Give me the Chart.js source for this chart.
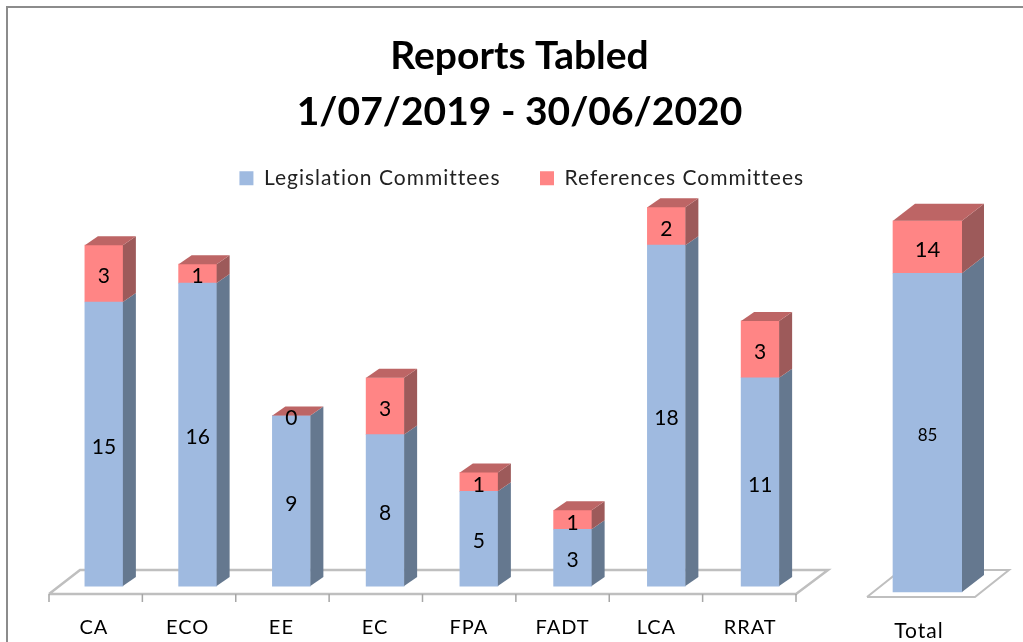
<!DOCTYPE html>
<html>
<head>
<meta charset="utf-8">
<style>
  html, body { margin: 0; padding: 0; background: #fff; overflow: hidden; }
  #wrap { position: relative; width: 1023px; height: 642px; overflow: hidden; }
  #frame { position: absolute; left: 6px; top: 6px; width: 1040px; height: 680px; border: 2px solid #8c8c8c; }
  #mainBox { position: absolute; left: 16px; top: 0; width: 1007px; height: 642px; }
  #totalBox { position: absolute; left: 840px; top: 0; width: 183px; height: 642px; }
</style>
<script src="https://cdn.jsdelivr.net/npm/chart.js@4/dist/chart.umd.min.js"></script>
</head>
<body>
<div id="wrap">
  <div id="frame"></div>
  <div id="mainBox"><canvas id="mainChart"></canvas></div>
  <div id="totalBox"><canvas id="totalChart"></canvas></div>
</div>
<script>
var committees = ['CA', 'ECO', 'EE', 'EC', 'FPA', 'FADT', 'LCA', 'RRAT'];
var legislation = [15, 16, 9, 8, 5, 3, 18, 11];
var references = [3, 1, 0, 3, 1, 1, 2, 3];

var totalLabel = ['Total'];
var totalLegislation = [85];
var totalReferences = [14];

var titleLines = ['Reports Tabled', '1/07/2019 - 30/06/2020'];
var seriesNames = ['Legislation Committees', 'References Committees'];

var BLUE = '#9fbae0', BLUE_SIDE = '#65788f';
var RED = '#ff8585', RED_SIDE = '#9d5a5a', RED_TOP = '#bd6565';
var FONT = 'Lato';
var SPACING = '1px';

// side and top faces of the bars, label text, and the floor
function box3d(dx, dy, floor, labelFont) {
  return {
    id: 'box3d',
    beforeLayout: function(chart) { chart.ctx.letterSpacing = SPACING; },
    beforeDraw: function(chart) { chart.ctx.letterSpacing = SPACING; },
    beforeDatasetsDraw: function(chart) {
      var c = chart.ctx;
      c.save();
      c.strokeStyle = '#bfbfbf';
      c.lineWidth = floor.width;
      c.beginPath();
      c.moveTo(floor.fl, floor.fy);
      c.lineTo(floor.bl, floor.by);
      c.lineTo(floor.br, floor.by);
      c.lineTo(floor.fr, floor.fy);
      c.lineTo(floor.fl, floor.fy);
      c.stroke();
      if (floor.marks) {
        c.strokeStyle = '#a6a6a6';
        c.lineWidth = 1.5;
        c.beginPath();
        for (var i = 0; i <= floor.marks; i++) {
          var x = floor.fl + i * (floor.fr - floor.fl) / floor.marks;
          c.moveTo(x, floor.fy);
          c.lineTo(x, floor.fy + 8);
        }
        c.stroke();
      }
      c.restore();
    },
    afterDatasetsDraw: function(chart) {
      var c = chart.ctx;
      c.save();
      c.letterSpacing = '0px';
      chart.data.datasets.forEach(function(ds, i) {
        chart.getDatasetMeta(i).data.forEach(function(bar) {
          var right = bar.x + bar.width / 2, left = bar.x - bar.width / 2;
          c.fillStyle = i == 0 ? BLUE_SIDE : RED_SIDE;
          c.beginPath();
          c.moveTo(right, bar.base);
          c.lineTo(right, bar.y);
          c.lineTo(right + dx, bar.y - dy);
          c.lineTo(right + dx, bar.base - dy);
          c.closePath();
          c.fill();
          if (i == 1) {
            c.fillStyle = RED_TOP;
            c.beginPath();
            c.moveTo(left, bar.y);
            c.lineTo(left + dx, bar.y - dy);
            c.lineTo(right + dx, bar.y - dy);
            c.lineTo(right, bar.y);
            c.closePath();
            c.fill();
          }
        });
      });
      c.fillStyle = '#000';
      c.textAlign = 'center';
      c.textBaseline = 'middle';
      chart.data.datasets.forEach(function(ds, i) {
        c.font = labelFont[i] + 'px ' + FONT;
        chart.getDatasetMeta(i).data.forEach(function(bar, j) {
          c.fillText(ds.data[j], bar.x, (bar.y + bar.base) / 2 + 3);
        });
      });
      c.restore();
    }
  };
}

// title without the letter spacing, legend block squeezed and nudged
var headerFix = {
  id: 'headerFix',
  beforeInit: function(chart) {
    var legendFit = chart.legend.fit;
    chart.legend.fit = function() {
      legendFit.call(this);
      this.height = 72;
    };
    var titleDraw = chart.titleBlock.draw;
    chart.titleBlock.draw = function() {
      chart.ctx.letterSpacing = '0px';
      titleDraw.call(this);
      chart.ctx.letterSpacing = SPACING;
    };
  },
  afterLayout: function(chart) {
    chart.legend.left += 2.25;
    chart.legend.right += 2.25;
  }
};

var hiddenAxis = {
  display: true,
  border: { display: false },
  grid: { display: false },
  ticks: { display: false }
};

var mainCtx = document.getElementById('mainChart').getContext('2d');
new Chart(mainCtx, {
  type: 'bar',
  data: {
    labels: committees,
    datasets: [
      { label: seriesNames[0], data: legislation, backgroundColor: BLUE, barThickness: 38, clip: false },
      { label: seriesNames[1], data: references, backgroundColor: RED, barThickness: 38, clip: false }
    ]
  },
  options: {
    responsive: true,
    maintainAspectRatio: false,
    animation: false,
    plugins: {
      tooltip: { enabled: false },
      title: {
        display: true,
        text: titleLines,
        color: '#000',
        font: { family: FONT, size: 39, weight: 'bold', lineHeight: 1.44 },
        padding: { top: 28, bottom: -12 }
      },
      legend: {
        position: 'top',
        labels: {
          color: '#222',
          font: { family: FONT, size: 21 },
          boxWidth: 14, boxHeight: 14,
          padding: 39.5
        }
      }
    },
    scales: {
      x: {
        stacked: true,
        afterFit: function(scale) { scale.height = 48; },
        border: { display: false },
        grid: { display: false },
        ticks: { color: '#000', font: { family: FONT, size: 20 }, padding: 14, labelOffset: -10, maxRotation: 0 }
      },
      y: Object.assign({}, hiddenAxis, {
        stacked: true,
        afterFit: function(scale) { scale.width = 41; },
        min: -0.42,
        max: 20.37
      }),
      y2: Object.assign({}, hiddenAxis, {
        position: 'right',
        afterFit: function(scale) { scale.width = 216; }
      })
    }
  },
  plugins: [headerFix, box3d(13, 9, { fl: 33, fy: 594, bl: 64, by: 570, br: 812, fr: 780, width: 2.5, marks: committees.length }, [21, 21])]
});

var totalCtx = document.getElementById('totalChart').getContext('2d');
new Chart(totalCtx, {
  type: 'bar',
  data: {
    labels: totalLabel,
    datasets: [
      { label: seriesNames[0], data: totalLegislation, backgroundColor: BLUE, barThickness: 69 },
      { label: seriesNames[1], data: totalReferences, backgroundColor: RED, barThickness: 69 }
    ]
  },
  options: {
    responsive: true,
    maintainAspectRatio: false,
    animation: false,
    layout: { padding: { left: 27, right: 35, top: 197, bottom: 0 } },
    plugins: { tooltip: { enabled: false }, title: { display: false }, legend: { display: false } },
    scales: {
      x: {
        stacked: true,
        afterFit: function(scale) { scale.height = 45; },
        border: { display: false },
        grid: { display: false },
        ticks: { color: '#000', font: { family: FONT, size: 21 }, padding: 14, labelOffset: -8.5, maxRotation: 0 }
      },
      y: {
        stacked: true,
        display: false,
        min: -1.33,
        max: 105.33
      }
    }
  },
  plugins: [box3d(22, 17, { fl: 27, fy: 597, bl: 61, by: 570, br: 169, fr: 135, width: 2 }, [17, 22])]
});
</script>
</body>
</html>
